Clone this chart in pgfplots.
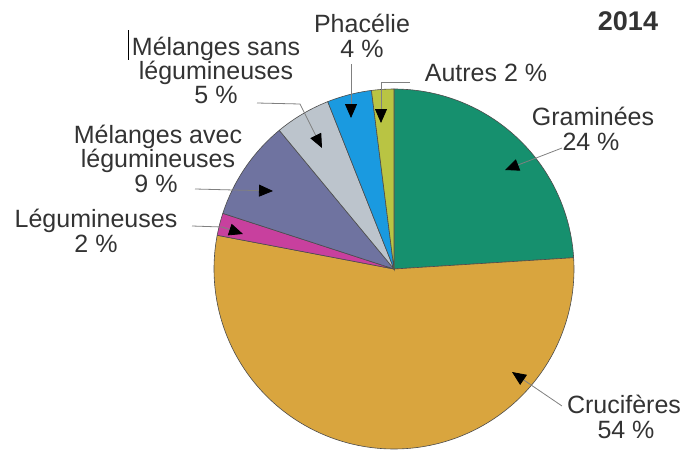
\documentclass[border=0pt]{standalone}
\usepackage{pgfplots}
\pgfplotsset{compat=1.18}
\usepackage{fontspec}
\setmainfont{Liberation Sans}
\usetikzlibrary{arrows.meta}
\definecolor{cGram}{HTML}{16906E}
\definecolor{cCruc}{HTML}{D9A53E}
\definecolor{cLeg}{HTML}{C8409E}
\definecolor{cMav}{HTML}{6F73A0}
\definecolor{cMsans}{HTML}{BCC4CC}
\definecolor{cPha}{HTML}{1A9AE0}
\definecolor{cAut}{HTML}{B9C443}
\definecolor{txt}{HTML}{333333}
\begin{document}
\begin{tikzpicture}[
  lbl/.style={anchor=base, inner sep=0pt, text=txt, font=\fontsize{25}{25}\selectfont},
  lead/.style={draw=black!50, line width=0.8pt, -{Triangle[length=14pt,width=12pt,black]}}]
\begin{axis}[x=1pt, y=1pt, xmin=0, xmax=686, ymin=0, ymax=450, y dir=reverse,
  hide axis, clip=false, anchor=south west, at={(0,0)}]
\xdef\cum{0}
\foreach \p/\c in {24/cGram,54/cCruc,2/cLeg,9/cMav,5/cMsans,4/cPha,2/cAut}{
  \pgfmathsetmacro\astart{90-3.6*\cum}
  \pgfmathsetmacro\aend{90-3.6*(\cum+\p)}
  \pgfmathsetmacro\ns{int(max(6,\p*3))}
  \edef\tmp{\noexpand\addplot[fill=\c, draw=black!70, line width=0.6pt, domain=\aend:\astart, samples=\ns] ({394+180*cos(x)},{269-180*sin(x)}) -- (axis cs:394,269) -- cycle;}
  \tmp
  \pgfmathsetmacro\newcum{\cum+\p}
  \xdef\cum{\newcum}
}
% leader lines
\draw[lead] (axis cs:562,148) -- (axis cs:505,170);
\draw[lead] (axis cs:562,406) -- (axis cs:512,372);
\draw[lead] (axis cs:192,226) -- (axis cs:222,227) -- (axis cs:243,234);
\draw[lead] (axis cs:195,189) -- (axis cs:273,191);
\draw[lead] (axis cs:257,103) -- (axis cs:300,104) -- (axis cs:322,148);
\draw[lead] (axis cs:351,64) -- (axis cs:351,118);
\draw[lead] (axis cs:410,82) -- (axis cs:381,82) -- (axis cs:381,123);
\draw[black, line width=1pt] (axis cs:128,30) -- (axis cs:128,60);
% labels
\node[lbl, font=\fontsize{27}{27}\selectfont\bfseries] at (axis cs:628,30) {2014};
\node[lbl] at (axis cs:362,32) {Phacélie};
\node[lbl] at (axis cs:362,57) {4 \%};
\node[lbl] at (axis cs:486,81) {Autres 2 \%};
\node[lbl] at (axis cs:216,55) {Mélanges sans};
\node[lbl] at (axis cs:216,79) {légumineuses};
\node[lbl] at (axis cs:216,103) {5 \%};
\node[lbl] at (axis cs:158,143) {Mélanges avec};
\node[lbl] at (axis cs:158,167) {légumineuses};
\node[lbl] at (axis cs:156,192) {9 \%};
\node[lbl] at (axis cs:96,227) {Légumineuses};
\node[lbl] at (axis cs:96,252) {2 \%};
\node[lbl] at (axis cs:593,125) {Graminées};
\node[lbl] at (axis cs:591,150) {24 \%};
\node[lbl] at (axis cs:624,413) {Crucifères};
\node[lbl] at (axis cs:626,438) {54 \%};
\end{axis}
\pgfresetboundingbox
\path (0,0) rectangle (686pt,450pt);
\end{tikzpicture}
\end{document}
